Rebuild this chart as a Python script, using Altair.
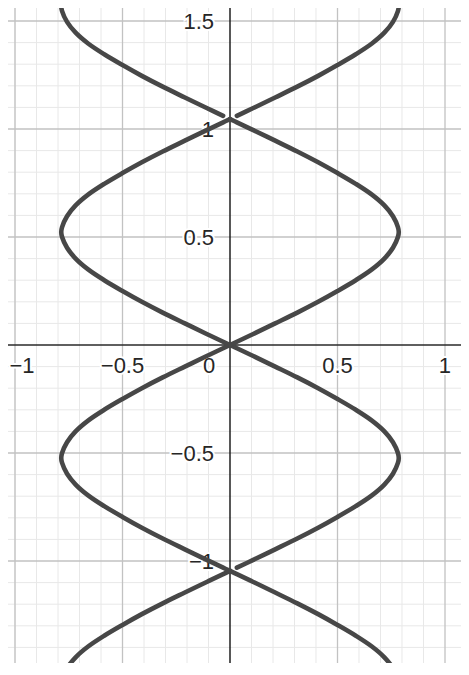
import altair as alt
import pandas as pd

# ---- values ----
x_minor = [-1.0, -0.9, -0.8, -0.7, -0.6, -0.4, -0.3, -0.2, -0.1, 0.1, 0.2, 0.3, 0.4,
           0.6, 0.7, 0.8, 0.9]
x_major = [-1.0, -0.5, 0.0, 0.5, 1.0]
y_minor = [-1.4, -1.3, -1.2, -1.1, -0.9, -0.8, -0.7, -0.6, -0.4, -0.3, -0.2, -0.1,
           0.1, 0.2, 0.3, 0.4, 0.6, 0.7, 0.8, 0.9, 1.1, 1.2, 1.3, 1.4]
y_major = [-1.5, -1.0, -0.5, 0.0, 0.5, 1.0, 1.5]

x_tick_vals = [-1.0, -0.5, 0.0, 0.5, 1.0]
x_tick_text = ["\u22121", "\u22120.5", "0", "0.5", "1"]
x_tick_dx = [7, 0, -21, 0, 0]
y_tick_vals = [1.5, 1.0, 0.5, -0.5, -1.0]
y_tick_text = ["1.5", "1", "0.5", "\u22120.5", "\u22121"]

# one lobe of the curve: offset along y from a crossing, and |x|
arc_t = [0.0, 0.015, 0.05, 0.1, 0.15, 0.2, 0.25, 0.3, 0.35, 0.4, 0.45, 0.5, 0.523,
         0.546, 0.596, 0.646, 0.696, 0.746, 0.796, 0.846, 0.896, 0.946, 0.996, 1.031, 1.046]
arc_x = [0.0, 0.032, 0.106, 0.21, 0.313, 0.41, 0.50, 0.585, 0.66, 0.718, 0.758, 0.781, 0.785,
         0.781, 0.758, 0.718, 0.66, 0.585, 0.50, 0.41, 0.313, 0.21, 0.106, 0.032, 0.0]
# lobes: starting y (crossing), side, whether the drawn piece starts slightly off the crossing
lobe_start = [-2.092, -2.092, -1.046, -1.046, 0.0, 0.0, 1.046, 1.046]
lobe_side = [1, -1, 1, -1, 1, -1, 1, -1]
lobe_gap = [False, False, True, False, False, False, True, True]

rows = []
for k, (y0, s, g) in enumerate(zip(lobe_start, lobe_side, lobe_gap)):
    for i, (t, ax) in enumerate(zip(arc_t, arc_x)):
        if g and i == 0:
            continue
        rows.append({"seg": k, "ord": i, "x": s * ax, "y": y0 + t})
curve = pd.DataFrame(rows)

# ---- scales (page is 469x675 with an 8px margin; chart drawn at 453x655) ----
xs = alt.Scale(domain=[-1.03256, 1.07442], nice=False, zero=False)
ys = alt.Scale(domain=[-1.47222, 1.56019], nice=False, zero=False)
X = lambda f: alt.X(f, type="quantitative", scale=xs, axis=None)
Y = lambda f: alt.Y(f, type="quantitative", scale=ys, axis=None)

def vrules(vals, color, w):
    return alt.Chart(pd.DataFrame({"v": vals})).mark_rule(color=color, strokeWidth=w).encode(x=X("v:Q"))

def hrules(vals, color, w):
    return alt.Chart(pd.DataFrame({"v": vals})).mark_rule(color=color, strokeWidth=w).encode(y=Y("v:Q"))

grid = [
    vrules(x_minor, "#e8e8e8", 1), hrules([v for v in y_minor if v > -1.47], "#e8e8e8", 1),
    vrules([v for v in x_major if v != 0], "#c2c2c2", 1.3),
    hrules([v for v in y_major if v != 0 and v > -1.47], "#c2c2c2", 1.3),
]

ydf = pd.DataFrame({"v": y_tick_vals, "t": y_tick_text, "z": [0.0] * len(y_tick_vals)})

font = "Liberation Sans"
fs = 22

def labels(df, halo, **kw):
    base = dict(font=font, fontSize=fs, baseline="middle")
    base.update(kw)
    if halo:
        base.update(stroke="white", strokeWidth=4, fill="white")
    else:
        base.update(fill="#262626")
    return alt.Chart(df).mark_text(**base)

layers = list(grid)
for halo in (True, False):
    for v, t, d in zip(x_tick_vals, x_tick_text, x_tick_dx):
        df = pd.DataFrame({"v": [v], "t": [t], "z": [0.0]})
        layers.append(labels(df, halo, align="center", dx=d, dy=21).encode(
            x=X("v:Q"), y=Y("z:Q"), text="t:N"))
    layers.append(labels(ydf, halo, align="right", dx=-16, dy=1).encode(
        x=X("z:Q"), y=Y("v:Q"), text="t:N"))

layers += [
    hrules([0.0], "#2a2a2a", 1.4),
    vrules([0.0], "#111111", 1.4),
    alt.Chart(curve).mark_line(color="#474747", strokeWidth=4.6, interpolate="catmull-rom",
                               clip=True, strokeCap="round").encode(
        x=X("x:Q"), y=Y("y:Q"), detail="seg:N", order="ord:Q"),
]

chart = alt.layer(*layers).properties(
    width=453, height=655, padding=0, autosize=alt.AutoSizeParams(type="none"),
    background="white",
).configure_view(stroke=None)

chart.save("out.html", embed_options={"renderer": "svg", "actions": False})
